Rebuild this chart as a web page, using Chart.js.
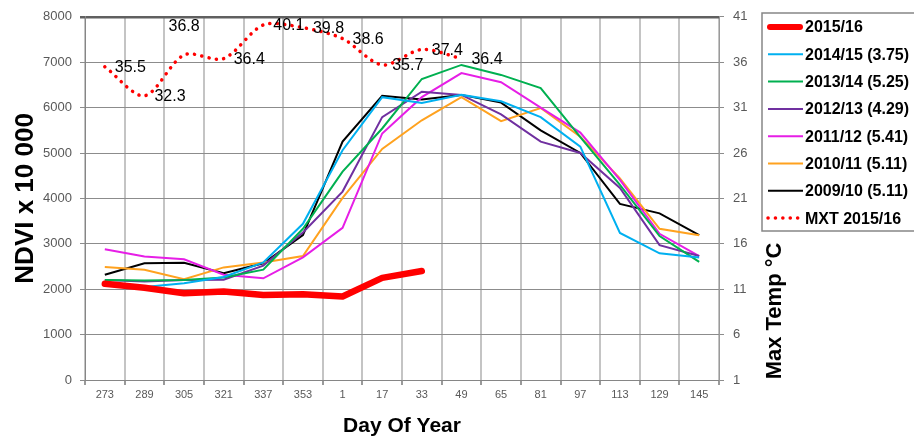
<!DOCTYPE html>
<html>
<head>
<meta charset="utf-8">
<script src="https://cdn.jsdelivr.net/npm/chart.js@4.4.1/dist/chart.umd.min.js"></script>
<style>
  body { margin: 0; background: #fff; }
  #wrap { width: 914px; height: 440px; }
</style>
</head>
<body>
<div id="wrap"><canvas id="ndviChart" width="914" height="440"></canvas></div>
<script>
// day of year (Oct -> May)
const days = ["273", "289", "305", "321", "337", "353", "1", "17", "33", "49", "65", "81", "97", "113", "129", "145"];

// NDVI x 10 000
const ndvi1516 = [2120, 2030, 1910, 1950, 1870, 1890, 1840, 2250, 2400, null, null, null, null, null, null, null];
const ndvi1415 = [2080, 2050, 2130, 2270, 2590, 3440, 5060, 6230, 6100, 6280, 6140, 5790, 5140, 3240, 2790, 2700];
const ndvi1314 = [2200, 2190, 2200, 2260, 2430, 3330, 4590, 5540, 6630, 6940, 6720, 6430, 5350, 4300, 3170, 2600];
const ndvi1213 = [2200, 2170, 2200, 2210, 2520, 3250, 4150, 5790, 6350, 6280, 5850, 5250, 5000, 4230, 2970, 2730];
const ndvi1112 = [2880, 2720, 2660, 2320, 2240, 2700, 3350, 5430, 6230, 6760, 6560, 6000, 5450, 4410, 3220, 2730];
const ndvi1011 = [2490, 2430, 2220, 2480, 2590, 2730, 4010, 5090, 5720, 6230, 5700, 5990, 5360, 4440, 3330, 3190];
const ndvi0910 = [2320, 2570, 2580, 2350, 2570, 3190, 5250, 6260, 6180, 6280, 6110, 5500, 5000, 3880, 3670, 3190];

// max temperature 2015/16 (deg C)
const mxt1516 = [35.5, 32.3, 36.8, 36.4, 40.1, 39.8, 38.6, 35.7, 37.4, 36.4, null, null, null, null, null, null];

const seriesNames = ["2015/16", "2014/15 (3.75)", "2013/14 (5.25)", "2012/13 (4.29)", "2011/12 (5.41)", "2010/11 (5.11)", "2009/10 (5.11)", "MXT 2015/16"];
const tempTicks = [1, 6, 11, 16, 21, 26, 31, 36, 41];

const TICK_GREY = "#595959";

function thinLine(label, values, color) {
  return {
    label: label,
    data: values,
    borderColor: color,
    backgroundColor: color,
    borderWidth: 2,
    pointRadius: 0,
    tension: 0,
    yAxisID: "y"
  };
}

const datasets = [
  {
    label: seriesNames[0],
    data: ndvi1516,
    borderColor: "#ff0000",
    backgroundColor: "#ff0000",
    borderWidth: 6.5,
    borderCapStyle: "round",
    borderJoinStyle: "round",
    pointRadius: 0,
    tension: 0,
    yAxisID: "y"
  },
  thinLine(seriesNames[1], ndvi1415, "#00b0f0"),
  thinLine(seriesNames[2], ndvi1314, "#00b050"),
  thinLine(seriesNames[3], ndvi1213, "#7030a0"),
  thinLine(seriesNames[4], ndvi1112, "#e61ee6"),
  thinLine(seriesNames[5], ndvi1011, "#ffa21f"),
  thinLine(seriesNames[6], ndvi0910, "#000000"),
  {
    label: seriesNames[7],
    data: mxt1516,
    borderColor: "#ff0000",
    backgroundColor: "#ff0000",
    borderWidth: 3.5,
    borderDash: [0.1, 7.3],
    borderCapStyle: "round",
    pointRadius: 0,
    tension: 0.3,
    yAxisID: "y2"
  }
];

// labels on the MXT points, legend box, right axis title
const extrasPlugin = {
  id: "extras",
  afterDatasetsDraw(chart) {
    const ctx = chart.ctx;
    const meta = chart.getDatasetMeta(7);
    ctx.save();
    ctx.font = "16px 'Liberation Sans'";
    ctx.fillStyle = "#000";
    ctx.textBaseline = "middle";
    meta.data.forEach((pt, i) => {
      const v = mxt1516[i];
      if (v === null) return;
      if (i === 2) {
        ctx.textAlign = "center";
        ctx.fillText(v.toFixed(1), pt.x, pt.y - 28);
      } else {
        ctx.textAlign = "left";
        ctx.fillText(v.toFixed(1), pt.x + 10, pt.y + 1);
      }
    });
    ctx.restore();
  },
  afterDraw(chart) {
    const ctx = chart.ctx;
    ctx.save();

    // legend
    const left = 762, top = 13;
    ctx.fillStyle = "#fff";
    ctx.fillRect(left, top, 170, 218);
    ctx.strokeStyle = "#868686";
    ctx.lineWidth = 1.5;
    ctx.strokeRect(left, top, 170, 218);

    ctx.font = "bold 16px 'Liberation Sans'";
    ctx.textBaseline = "middle";
    ctx.textAlign = "left";
    chart.data.datasets.forEach((ds, i) => {
      const y = 27 + i * 27.3;
      ctx.beginPath();
      ctx.strokeStyle = ds.borderColor;
      ctx.lineWidth = i === 0 ? 6 : (i === 7 ? 3.5 : 2);
      ctx.lineCap = (i === 0 || i === 7) ? "round" : "butt";
      ctx.setLineDash(i === 7 ? [0.1, 7.3] : []);
      ctx.moveTo(i === 0 ? 770 : 768, y);
      ctx.lineTo(i === 0 ? 800 : 803, y);
      ctx.stroke();
      ctx.setLineDash([]);
      ctx.fillStyle = "#000";
      ctx.fillText(ds.label, 805, y + 1);
    });

    // right axis title, reads bottom to top
    ctx.translate(775, 311);
    ctx.rotate(-Math.PI / 2);
    ctx.font = "bold 22px 'Liberation Sans'";
    ctx.textAlign = "center";
    ctx.textBaseline = "middle";
    ctx.fillStyle = "#000";
    ctx.fillText("Max Temp °C", 0, 0);
    ctx.restore();
  }
};

const ctx = document.getElementById("ndviChart").getContext("2d");

const chart = new Chart(ctx, {
  type: "line",
  data: {
    labels: days,
    datasets: datasets
  },
  options: {
    responsive: false,
    animation: false,
    layout: { padding: { top: 14, left: 0, right: 0, bottom: 0 } },
    plugins: {
      legend: { display: false },
      tooltip: { enabled: false }
    },
    scales: {
      x: {
        offset: true,
        grid: {
          offset: true,
          color: "#c4c4c4",
          lineWidth: 2,
          tickLength: 5,
          tickColor: "#9a9a9a"
        },
        border: { color: "#868686", width: 1 },
        ticks: {
          color: TICK_GREY,
          font: { family: "Liberation Sans", size: 11 },
          padding: 3,
          maxRotation: 0,
          autoSkip: false
        },
        title: {
          display: true,
          text: "Day Of Year",
          color: "#000",
          font: { family: "Liberation Sans", size: 21, weight: "bold" },
          padding: { top: 0, bottom: 1 }
        },
        afterFit(scale) { scale.height = 60; }
      },
      y: {
        position: "left",
        min: 0,
        max: 8000,
        ticks: {
          stepSize: 1000,
          color: TICK_GREY,
          font: { family: "Liberation Sans", size: 13 },
          padding: 8,
          callback: (v) => String(v)
        },
        grid: {
          color: (c) => c.tick && c.tick.value === 8000 ? "#606060" : "#8c8c8c",
          lineWidth: (c) => c.tick && c.tick.value === 8000 ? 2.5 : 1,
          tickLength: 5
        },
        border: { color: "#868686", width: 1 },
        title: {
          display: true,
          text: "NDVI x 10 000",
          color: "#000",
          font: { family: "Liberation Sans", size: 26, weight: "bold" },
          padding: { top: 10, bottom: 0 }
        },
        afterFit(scale) { scale.width = 85; }
      },
      y2: {
        position: "right",
        min: 1,
        max: 41,
        afterBuildTicks(scale) {
          scale.ticks = tempTicks.map(v => ({ value: v }));
        },
        ticks: {
          color: TICK_GREY,
          font: { family: "Liberation Sans", size: 13 },
          padding: 9
        },
        grid: {
          drawOnChartArea: false,
          color: "#8c8c8c",
          tickLength: 5
        },
        border: { color: "#9a9a9a", width: 1 },
        afterFit(scale) { scale.width = 195; }
      }
    }
  },
  plugins: [extrasPlugin]
});
</script>
</body>
</html>
